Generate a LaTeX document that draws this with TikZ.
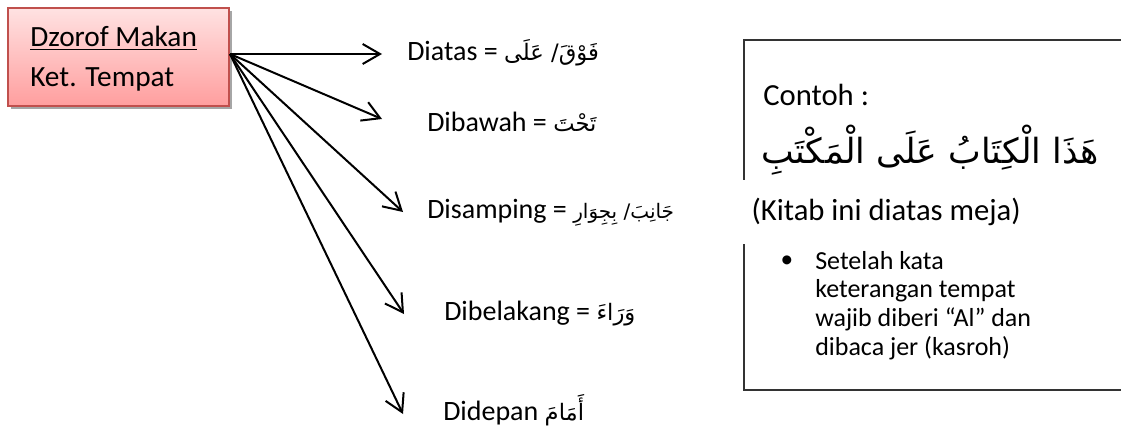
\documentclass[tikz,border=0pt]{standalone}
\usepackage{fontspec}
\setmainfont{Carlito}
\newfontfamily\arabicfont[Script=Arabic]{DejaVu Sans}
\TeXXeTstate=1
\usetikzlibrary{arrows.meta,shadows}
\definecolor{boxtop}{HTML}{FFE2E2}
\definecolor{boxbot}{HTML}{FF9E9E}
\definecolor{boxborder}{HTML}{C0504D}
\newcommand\artxt[1]{{\arabicfont\fontsize{17}{20}\selectfont\beginR #1\endR}}
\newcommand\artxts[1]{{\arabicfont\fontsize{15}{20}\selectfont\beginR #1\endR}}
\begin{document}
\begin{tikzpicture}[x=0.75pt,y=-0.75pt,
  lbl/.style={anchor=west, inner sep=0pt, font=\fontsize{21}{25}\selectfont},
  arr/.style={line width=1.5pt, -{Straight Barb[length=13pt,width=15pt,line width=1.5pt]}},
  boxtxt/.style={anchor=west, inner sep=0pt, font=\fontsize{22}{26}\selectfont},
  rtxt/.style={inner sep=0pt, font=\fontsize{23}{27}\selectfont}
]
\useasboundingbox (0,0) rectangle (1121,443);
% source box
\node[draw=boxborder, line width=1.2pt, top color=boxtop, bottom color=boxbot,
  minimum width=165.75pt, minimum height=73.5pt, inner sep=0pt,
  drop shadow={shadow xshift=2.5pt, shadow yshift=-2.5pt, opacity=1, fill=black!35}]
  (src) at (118.5,57) {};
\node[boxtxt] (t1) at (30,38) {\underline{Dzorof Makan}};
\node[boxtxt] (t2) at (30,79) {Ket. Tempat};
\coordinate (o) at (230,54);
\coordinate (e1) at (382,54);
\coordinate (e2) at (382,119);
\coordinate (e3) at (403,212);
\coordinate (e4) at (404,314);
\coordinate (e5) at (403,414);
\foreach \e in {e1,e2,e3,e4,e5} \draw[arr] (o) -- (\e);
% labels
\node[lbl] (l1) at (407,53) {Diatas = \artxt{فَوْقَ/ عَلَى}};
\node[lbl] (l2) at (427,122) {Dibawah = \artxt{تَحْتَ}};
\node[lbl] (l3) at (427,213) {Disamping = \artxts{جَانِبَ/ بِجِوَارِ}};
\node[lbl] (l4) at (444,314) {Dibelakang = \artxt{وَرَاءَ}};
\node[lbl] (l5) at (443,410) {Didepan \artxt{أَمَامَ}};
% example box
\draw[line width=1.2pt, black!80] (1140,40) -- (744,40) -- (744,390) -- (1140,390);
\node[rtxt, anchor=west] (contoh) at (763,95) {Contoh :};
\node[inner sep=0pt] (sent) at (930,150) {\arabicfont\fontsize{26}{30}\selectfont\beginR هَذَا الْكِتَابُ عَلَى الْمَكْتَبِ\endR};
\node[rtxt, anchor=west, fill=white, minimum height=48pt, inner xsep=10pt] (kitab) at (738,212) {(Kitab ini diatas meja)};
\node[inner sep=0pt, font=\fontsize{19}{21}\selectfont] (bul) at (787,262) {•};
\node[anchor=north west, inner sep=0pt, align=left, font=\fontsize{19.5}{21.5}\selectfont] (note) at (815,251)
  {Setelah kata\\keterangan tempat\\wajib diberi “Al” dan\\dibaca jer (kasroh)};
\end{tikzpicture}
\end{document}
